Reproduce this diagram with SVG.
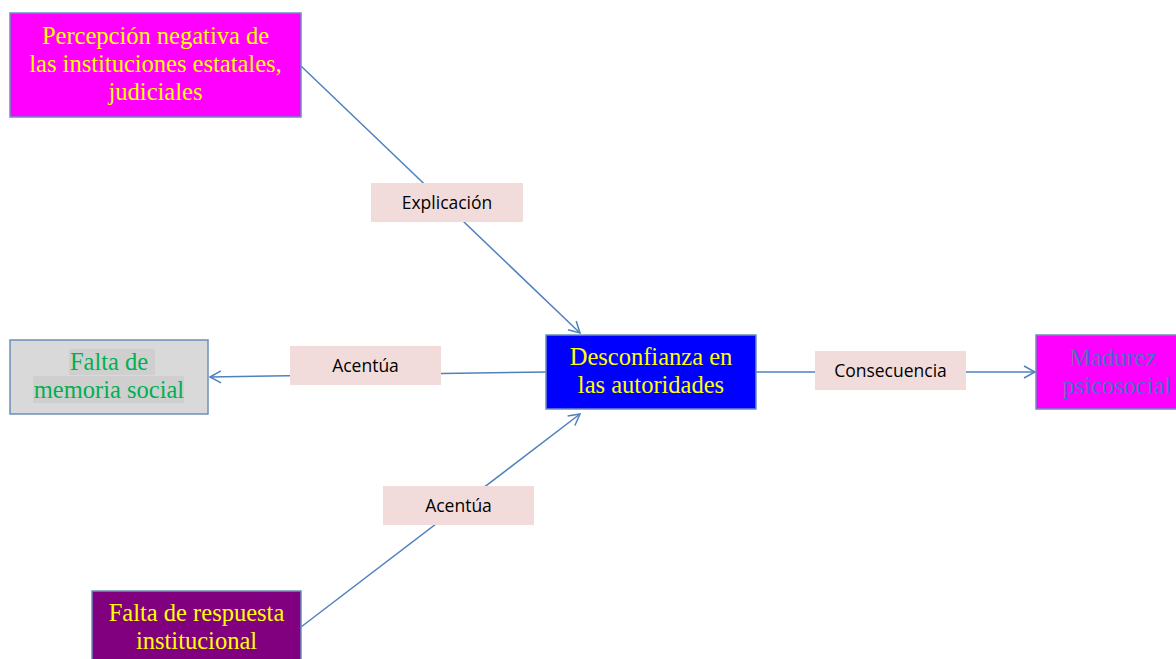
<svg xmlns="http://www.w3.org/2000/svg" width="1176" height="659" viewBox="0 0 1176 659">
<defs>
<style>
.node{stroke:#6C8EBF;stroke-width:1.5}
.t{font-family:"Liberation Serif","Times New Roman",serif;font-size:24.5px;text-anchor:middle}
.lbl{fill:#F2DCDB}
.lt{font-family:"Open Sans","Liberation Sans",sans-serif;font-size:17.5px;fill:#000;text-anchor:middle}
.c{stroke:#4F81BD;stroke-width:1.5;fill:none}
</style>
<marker id="arr" markerWidth="14" markerHeight="14" refX="12" refY="7" orient="auto" markerUnits="userSpaceOnUse">
<path d="M1,1 L12,7 L1,13" fill="none" stroke="#4F81BD" stroke-width="1.5"/>
</marker>
</defs>
<rect width="1176" height="659" fill="#fff"/>
<g id="connectors">
<line class="c" x1="301" y1="66" x2="580" y2="333" marker-end="url(#arr)"/>
<line class="c" x1="546" y1="372" x2="210" y2="377" marker-end="url(#arr)"/>
<line class="c" x1="756" y1="372" x2="1035" y2="372" marker-end="url(#arr)"/>
<line class="c" x1="301" y1="627" x2="580" y2="414" marker-end="url(#arr)"/>
</g>
<g id="label-explicacion">
<rect class="lbl" x="371" y="183" width="152" height="39"/>
<text class="lt" x="447" y="209">Explicación</text>
</g>
<g id="label-acentua1">
<rect class="lbl" x="290" y="346" width="151" height="39"/>
<text class="lt" x="365.5" y="372">Acentúa</text>
</g>
<g id="label-consecuencia">
<rect class="lbl" x="815" y="351" width="151" height="39"/>
<text class="lt" x="890.5" y="377">Consecuencia</text>
</g>
<g id="label-acentua2">
<rect class="lbl" x="383" y="486" width="151" height="39"/>
<text class="lt" x="458.5" y="512">Acentúa</text>
</g>
<g id="node-percepcion">
<rect class="node" x="10" y="13" width="291" height="104" fill="#FF00FF"/>
<text class="t" fill="#FFFF00"><tspan x="155.5" y="44">Percepción negativa de</tspan><tspan x="155.5" y="72">las instituciones estatales,</tspan><tspan x="155.5" y="100">judiciales</tspan></text>
</g>
<g id="node-memoria">
<rect class="node" x="10" y="340" width="198" height="74" fill="#D9D9D9"/>
<rect x="69" y="349" width="86" height="26" fill="#CFCFCF"/>
<rect x="33" y="376" width="151" height="27" fill="#CFCFCF"/>
<text class="t" fill="#00B050"><tspan x="109" y="370">Falta de</tspan><tspan x="109" y="398">memoria social</tspan></text>
</g>
<g id="node-desconfianza">
<rect class="node" x="546" y="335" width="210" height="74" fill="#0000FF"/>
<text class="t" fill="#FFFF00"><tspan x="651" y="365">Desconfianza en</tspan><tspan x="651" y="393">las autoridades</tspan></text>
</g>
<g id="node-madurez">
<rect class="node" x="1036" y="335" width="145" height="74" fill="#FF00FF"/>
<text class="t" fill="#4472C4"><tspan x="1113" y="366">Madurez</tspan><tspan x="1117" y="394">psicosocial</tspan></text>
</g>
<g id="node-respuesta">
<rect class="node" x="92" y="591" width="209" height="80" fill="#800080"/>
<text class="t" fill="#FFFF00"><tspan x="196.5" y="621">Falta de respuesta</tspan><tspan x="196.5" y="649">institucional</tspan></text>
</g>
</svg>
